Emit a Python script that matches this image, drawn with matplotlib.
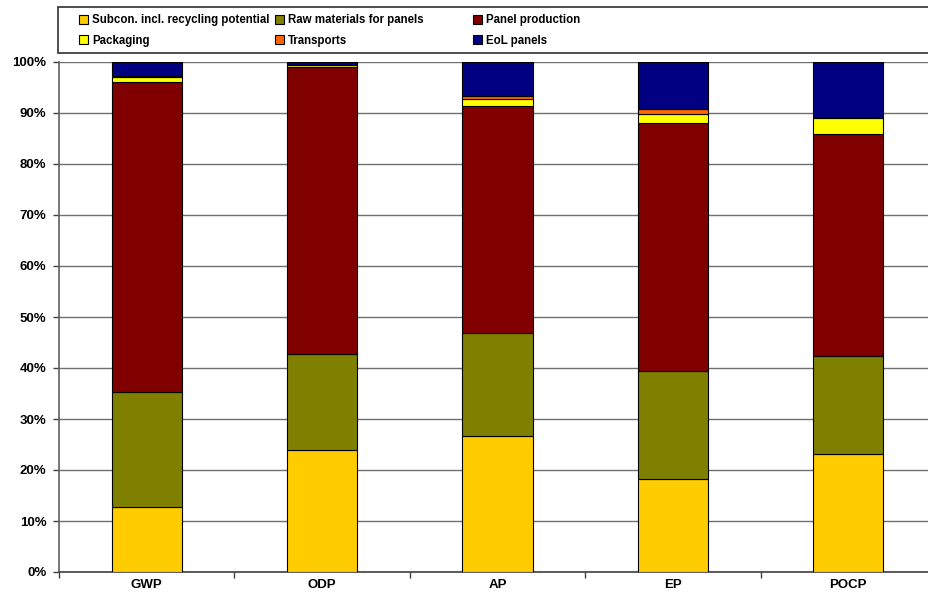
import matplotlib
matplotlib.use("Agg")
import matplotlib.pyplot as plt
from matplotlib.patches import Rectangle
import numpy as np

categories = ["GWP", "ODP", "AP", "EP", "POCP"]
series_names = ["Subcon. incl. recycling potential", "Raw materials for panels",
                "Panel production", "Packaging", "Transports", "EoL panels"]
subcon = [12.7, 23.9, 26.7, 18.2, 23.1]
raw_materials = [22.6, 18.8, 20.2, 21.2, 19.3]
panel_production = [60.8, 56.4, 44.5, 48.6, 43.4]
packaging = [0.9, 0.3, 1.3, 1.8, 3.2]
transports = [0.2, 0.1, 0.6, 1.0, 0.3]
eol_panels = [2.8, 0.5, 6.7, 9.2, 10.7]
y_ticks = [0, 10, 20, 30, 40, 50, 60, 70, 80, 90, 100]

colors = ["#FFCC00", "#808000", "#800000", "#FFFF00", "#FF6600", "#000080"]
series = [subcon, raw_materials, panel_production, packaging, transports, eol_panels]

plt.rcParams["font.family"] = ["Liberation Sans", "DejaVu Sans"]
plt.rcParams["font.weight"] = "bold"

fig = plt.figure(figsize=(9.29, 6.01), dpi=100)
ax = fig.add_axes([59 / 929, 29 / 601, 877 / 929, 510 / 601])

x = np.arange(len(categories))
bottom = np.zeros(len(categories))
handles = []
for name, vals, col in zip(series_names, series, colors):
    b = ax.bar(x, vals, width=0.4, bottom=bottom, color=col, edgecolor="black",
               linewidth=0.8, label=name, zorder=3)
    handles.append(b)
    bottom += np.array(vals)

ax.set_xlim(-0.5, len(categories) - 0.5)
ax.set_ylim(0, 100)
ax.set_yticks(y_ticks)
ax.set_yticklabels([f"{t}%" for t in y_ticks], fontsize=9.5, fontweight="bold")
ax.set_xticks(x)
ax.set_xticklabels(categories, fontsize=9.5, fontweight="bold")
ax.set_xticks(np.arange(len(categories) + 1) - 0.5, minor=True)
ax.tick_params(axis="x", which="major", length=0, pad=5)
ax.tick_params(axis="x", which="minor", length=4, width=1, color="#404040")
ax.tick_params(axis="y", length=4, width=1, color="#404040", pad=5)
ax.yaxis.grid(True, color="#707070", linewidth=1, zorder=0)
ax.set_axisbelow(True)
for s in ["top", "right"]:
    ax.spines[s].set_visible(False)
ax.spines["left"].set_color("#606060")
ax.spines["left"].set_linewidth(1.2)
ax.spines["bottom"].set_color("#404040")
ax.spines["bottom"].set_linewidth(1.2)

# legend frame
fig.patches.append(Rectangle((58 / 929, 1 - 53 / 601), 900 / 929, 46 / 601,
                             transform=fig.transFigure, facecolor="white",
                             edgecolor="#303030", linewidth=1.2))

# three legend columns, two rows each
col_x = [70, 266, 464]
for c in range(3):
    idx = [c, c + 3]
    fig.legend([handles[i] for i in idx], [series_names[i] for i in idx],
               loc="upper left", bbox_to_anchor=(col_x[c] / 929, 1 - 5 / 601),
               frameon=False, handlelength=0.8, handleheight=0.8,
               handletextpad=0.3, labelspacing=0.75, borderpad=0.3,
               prop={"weight": "bold", "size": 8.3})

fig.savefig("out.png", dpi=100)
